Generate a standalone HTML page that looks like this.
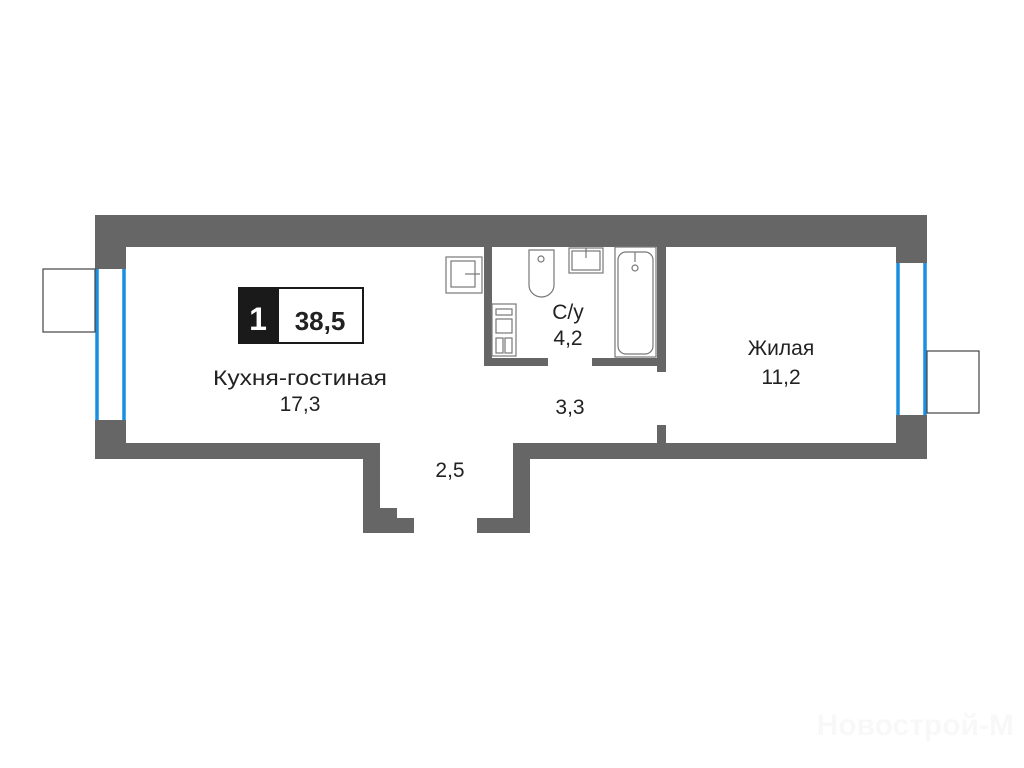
<!DOCTYPE html>
<html><head><meta charset="utf-8"><style>
html,body{margin:0;padding:0;background:#fff;width:1024px;height:768px;overflow:hidden}
svg{display:block}
text{font-family:"Liberation Sans","DejaVu Sans",sans-serif;fill:#222}
</style></head><body>
<svg width="1024" height="768" viewBox="0 0 1024 768" xmlns="http://www.w3.org/2000/svg">
<g fill="#666">
<rect x="95" y="215" width="832" height="32"/>
<rect x="95" y="215" width="31" height="54"/>
<rect x="95" y="420" width="31" height="39"/>
<rect x="95" y="443" width="285" height="16"/>
<rect x="896" y="215" width="31" height="48"/>
<rect x="896" y="415" width="31" height="44"/>
<rect x="513" y="443" width="414" height="16"/>
<rect x="363" y="443" width="17" height="90"/>
<rect x="363" y="508" width="34" height="25"/>
<rect x="363" y="518" width="51" height="15"/>
<rect x="513" y="443" width="17" height="90"/>
<rect x="477" y="518" width="53" height="15"/>
<rect x="484" y="247" width="8" height="119"/>
<rect x="484" y="358" width="64" height="8"/>
<rect x="592" y="358" width="74" height="8"/>
<rect x="657" y="247" width="9" height="125"/>
<rect x="657" y="425" width="9" height="18"/>
</g>
<g fill="none" stroke="#1a8fe0" stroke-width="3.5">
<line x1="97" y1="269" x2="97" y2="420"/>
<line x1="124" y1="269" x2="124" y2="420"/>
<line x1="898" y1="263" x2="898" y2="415"/>
<line x1="925" y1="263" x2="925" y2="415"/>
</g>
<g fill="none" stroke="#444" stroke-width="1.2">
<rect x="43" y="269" width="52" height="63"/>
<rect x="927" y="351" width="52" height="62"/>
</g>
<g fill="none" stroke="#777" stroke-width="1.2">
<rect x="446" y="257" width="36" height="36"/>
<rect x="451" y="261" width="24" height="26"/>
<line x1="465" y1="274" x2="480" y2="274"/>
<rect x="492" y="304" width="24" height="52"/>
<rect x="496" y="309" width="16" height="6"/>
<rect x="496" y="319" width="16" height="14"/>
<rect x="496" y="338" width="7" height="15"/>
<rect x="505" y="338" width="7" height="15"/>
<path d="M529 250 h25 v35 a12.5 12 0 0 1 -25 0 z"/>
<circle cx="541" cy="259" r="3"/>
<rect x="569" y="248" width="34" height="25"/>
<rect x="572" y="251" width="28" height="19"/>
<line x1="586" y1="248" x2="586" y2="258"/>
<rect x="615" y="247" width="41" height="110"/>
<rect x="618" y="252" width="35" height="102" rx="8"/>
<circle cx="635" cy="268" r="3"/>
<line x1="635" y1="252" x2="635" y2="262"/>
</g>
<rect x="238" y="287" width="40" height="57" fill="#1a1a1a"/>
<rect x="278" y="288" width="85" height="55" fill="#fff" stroke="#1a1a1a" stroke-width="2"/>
<text x="258" y="330" text-anchor="middle" font-size="32" font-weight="bold" style="fill:#fff">1</text>
<text x="320" y="330" text-anchor="middle" font-size="26" font-weight="bold">38,5</text>
<g font-size="21" text-anchor="middle">
<text x="300" y="385" textLength="174" lengthAdjust="spacingAndGlyphs">Кухня-гостиная</text>
<text x="300" y="411">17,3</text>
<text x="568" y="319">С/у</text>
<text x="568" y="345">4,2</text>
<text x="570" y="414">3,3</text>
<text x="450" y="477">2,5</text>
<text x="781" y="355">Жилая</text>
<text x="781" y="384">11,2</text>
</g>
<text x="1014" y="735" text-anchor="end" font-size="30" font-weight="bold" style="fill:#f8f8f8">Новострой-М</text>
</svg>
</body></html>
